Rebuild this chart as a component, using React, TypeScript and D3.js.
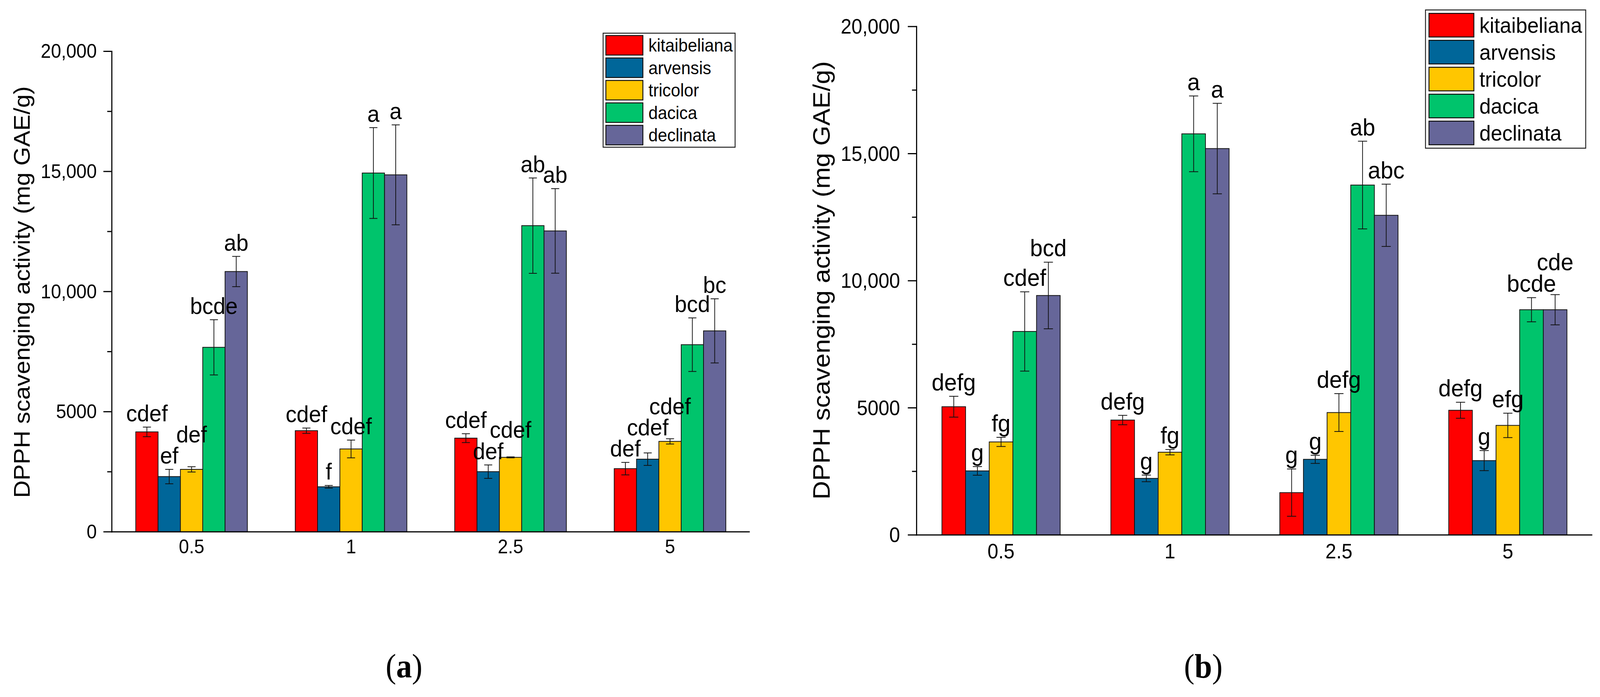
import React from "react";
import * as d3 from "d3";

// ---------- shared categories ----------
const doses = ["0.5", "1", "2.5", "5"];
const species = ["kitaibeliana", "arvensis", "tricolor", "dacica", "declinata"];
const speciesColors = ["#FF0000", "#006699", "#FFC600", "#00C46C", "#666699"];
const yTickValues = [0, 5000, 10000, 15000, 20000];
const yTickLabels = ["0", "5000", "10,000", "15,000", "20,000"];
const yMinorTicks = [2500, 7500, 12500, 17500];
const yTitle = "DPPH scavenging activity (mg GAE/g)";

// ---------- panel (a) ----------
const aKitaibeliana = [4160, 4210, 3900, 2630];
const aArvensis = [2300, 1875, 2505, 3025];
const aTricolor = [2600, 3450, 3100, 3765];
const aDacica = [7680, 14935, 12745, 7790];
const aDeclinata = [10835, 14860, 12525, 8365];

const aKitaibelianaErr = [200, 110, 185, 260];
const aArvensisErr = [300, 55, 280, 260];
const aTricolorErr = [110, 370, 20, 110];
const aDacicaErr = [1150, 1890, 1985, 1115];
const aDeclinataErr = [630, 2080, 1760, 1335];

const aKitaibelianaLbl = ["cdef", "cdef", "cdef", "def"];
const aArvensisLbl = ["ef", "f", "def", "cdef"];
const aTricolorLbl = ["def", "cdef", "cdef", "cdef"];
const aDacicaLbl = ["bcde", "a", "ab", "bcd"];
const aDeclinataLbl = ["ab", "a", "ab", "bc"];

// ---------- panel (b) ----------
const bKitaibeliana = [5045, 4520, 1665, 4905];
const bArvensis = [2520, 2225, 2975, 2925];
const bTricolor = [3660, 3255, 4815, 4310];
const bDacica = [8005, 15780, 13765, 8860];
const bDeclinata = [9420, 15200, 12575, 8860];

const bKitaibelianaErr = [410, 185, 930, 315];
const bArvensisErr = [170, 130, 160, 395];
const bTricolorErr = [180, 105, 745, 480];
const bDacicaErr = [1560, 1490, 1725, 475];
const bDeclinataErr = [1310, 1780, 1225, 595];

const bKitaibelianaLbl = ["defg", "defg", "g", "defg"];
const bArvensisLbl = ["g", "g", "g", "g"];
const bTricolorLbl = ["fg", "fg", "defg", "efg"];
const bDacicaLbl = ["cdef", "a", "ab", "bcde"];
const bDeclinataLbl = ["bcd", "a", "abc", "cde"];

const W = 4364;
const H = 1785;
const SANS = '"Liberation Sans", Arial, Helvetica, sans-serif';
const SERIF = '"Liberation Serif", "Times New Roman", serif';

let measureCtx: CanvasRenderingContext2D | null = null;
function measure(text: string, size: number): number {
  if (!measureCtx) {
    const c = document.createElement("canvas");
    measureCtx = c.getContext("2d");
  }
  if (!measureCtx) return text.length * size * 0.55;
  measureCtx.font = `${size}px ${SANS}`;
  return measureCtx.measureText(text).width;
}

type Layout = {
  x0: number;
  x1: number;
  yTop: number;
  yBottom: number;
  groupFrac: number;
  tickFont: number;
  xTickBaseline: number;
  yTickGap: number;
  majorLen: number;
  minorLen: number;
  titleFont: number;
  titleX: number;
  titleY: number;
  letterFont: number;
  capW: number;
  legX: number;
  legY: number;
  legW: number;
  legH: number;
  legPad: number;
  swW: number;
  swH: number;
  rowStep: number;
  legFont: number;
  panelLetter: string;
  panelX: number;
};

const layoutA: Layout = {
  x0: 305,
  x1: 2045,
  yTop: 131.5,
  yBottom: 1362,
  groupFrac: 0.7,
  tickFont: 50,
  xTickBaseline: 1417,
  yTickGap: 18,
  majorLen: 23,
  minorLen: 12.5,
  titleFont: 62,
  titleX: 81,
  titleY: 748,
  letterFont: 60,
  capW: 22,
  legX: 1645,
  legY: 85,
  legW: 360,
  legH: 292,
  legPad: 7.5,
  swW: 101,
  swH: 50,
  rowStep: 57.5,
  legFont: 46,
  panelLetter: "a",
  panelX: 1102,
};

const layoutB: Layout = {
  x0: 2500,
  x1: 4343,
  yTop: 68,
  yBottom: 1370,
  groupFrac: 0.7,
  tickFont: 53,
  xTickBaseline: 1430,
  yTickGap: 21,
  majorLen: 24,
  minorLen: 12.5,
  titleFont: 66,
  titleX: 2263,
  titleY: 718,
  letterFont: 62,
  capW: 25,
  legX: 3888,
  legY: 25.5,
  legW: 437,
  legH: 354,
  legPad: 9.5,
  swW: 122.5,
  swH: 60.5,
  rowStep: 69,
  legFont: 56,
  panelLetter: "b",
  panelX: 3282,
};

type PanelProps = {
  means: number[][];
  errs: number[][];
  labels: string[][];
  L: Layout;
};

function Panel({ means, errs, labels, L }: PanelProps) {
  const x = d3.scaleBand<string>().domain(doses).range([L.x0, L.x1]).paddingInner(0).paddingOuter(0);
  const step = x.step();
  const groupW = step * L.groupFrac;
  const xi = d3.scaleBand<string>().domain(species).range([-groupW / 2, groupW / 2]).padding(0);
  const bw = xi.bandwidth();
  const y = d3.scaleLinear().domain([0, 20000]).range([L.yBottom, L.yTop]);

  const bars: {
    key: string;
    x: number;
    cx: number;
    yTop: number;
    h: number;
    color: string;
    eHi: number;
    eLo: number;
  }[] = [];
  const letters: { key: string; cx: number; base: number; w: number; text: string }[] = [];
  const asc = L.letterFont * 0.72;
  const gap = 15;
  const margin = 11;

  doses.forEach((d, gi) => {
    species.forEach((s, si) => {
      const v = means[si][gi];
      const e = errs[si][gi];
      const left = (x(d) as number) + step / 2 + (xi(s) as number);
      const cx = left + bw / 2;
      bars.push({
        key: `${d}-${s}`,
        x: left,
        cx,
        yTop: y(v),
        h: y(0) - y(v),
        color: speciesColors[si],
        eHi: y(v + e),
        eLo: y(v - e),
      });
      const text = labels[si][gi];
      const w = measure(text, L.letterFont);
      let base = y(v + e) - gap;
      let moved = true;
      let guard = 0;
      while (moved && guard < 20) {
        moved = false;
        guard++;
        for (const p of letters) {
          const hOverlap = Math.abs(cx - p.cx) < (w + p.w) / 2;
          const vOverlap = base > p.base - asc && base - asc < p.base;
          // a label that would sit at or above its left neighbour is stacked on top of it;
          // one that sits clearly lower is left tucked beside it
          if (hOverlap && vOverlap && base <= p.base + 5) {
            base = p.base - asc - margin;
            moved = true;
          }
        }
      }
      letters.push({ key: `${d}-${s}-l`, cx, base, w, text });
    });
  });

  const legInnerTop = L.legY + (L.legH - (4 * L.rowStep + L.swH)) / 2;

  return (
    <g>
      {bars.map((b) => (
        <rect
          key={b.key}
          x={b.x}
          y={b.yTop}
          width={bw}
          height={b.h}
          fill={b.color}
          stroke="#111"
          strokeWidth={2}
        />
      ))}
      {bars.map((b) => (
        <g key={b.key + "-e"} stroke="#111" strokeWidth={2}>
          <line x1={b.cx} x2={b.cx} y1={b.eHi} y2={b.eLo} />
          <line x1={b.cx - L.capW / 2} x2={b.cx + L.capW / 2} y1={b.eHi} y2={b.eHi} />
          <line x1={b.cx - L.capW / 2} x2={b.cx + L.capW / 2} y1={b.eLo} y2={b.eLo} />
        </g>
      ))}
      {letters.map((l) => (
        <text
          key={l.key}
          x={l.cx}
          y={l.base}
          textAnchor="middle"
          fontFamily={SANS}
          fontSize={L.letterFont}
          fill="#000"
        >
          {l.text}
        </text>
      ))}
      <line x1={L.x0} x2={L.x0} y1={y(20000) - 1.5} y2={y(0) + 1.5} stroke="#000" strokeWidth={3} />
      <line x1={L.x0 - 1.5} x2={L.x1} y1={y(0)} y2={y(0)} stroke="#000" strokeWidth={3} />
      {yTickValues.map((t, i) => (
        <g key={"yt" + t}>
          <line x1={L.x0 - L.majorLen} x2={L.x0} y1={y(t)} y2={y(t)} stroke="#000" strokeWidth={3} />
          <text
            x={L.x0 - L.majorLen - L.yTickGap}
            y={y(t)}
            dy="0.34em"
            textAnchor="end"
            fontFamily={SANS}
            fontSize={L.tickFont}
            fill="#000"
          >
            {yTickLabels[i]}
          </text>
        </g>
      ))}
      {yMinorTicks.map((t) => (
        <line
          key={"ym" + t}
          x1={L.x0 - L.minorLen}
          x2={L.x0}
          y1={y(t)}
          y2={y(t)}
          stroke="#000"
          strokeWidth={3}
        />
      ))}
      {doses.map((d) => (
        <text
          key={"xt" + d}
          x={(x(d) as number) + step / 2}
          y={L.xTickBaseline}
          textAnchor="middle"
          fontFamily={SANS}
          fontSize={L.tickFont}
          fill="#000"
        >
          {d}
        </text>
      ))}
      <text
        transform={`translate(${L.titleX},${L.titleY}) rotate(-90)`}
        textAnchor="middle"
        fontFamily={SANS}
        fontSize={L.titleFont}
        fill="#000"
      >
        {yTitle}
      </text>
      <rect
        x={L.legX}
        y={L.legY}
        width={L.legW}
        height={L.legH}
        fill="#fff"
        stroke="#222"
        strokeWidth={2.5}
      />
      {species.map((s, i) => {
        const top = legInnerTop + i * L.rowStep;
        return (
          <g key={"lg" + s}>
            <rect
              x={L.legX + L.legPad}
              y={top}
              width={L.swW}
              height={L.swH}
              fill={speciesColors[i]}
              stroke="#111"
              strokeWidth={2.5}
            />
            <text
              x={L.legX + L.legPad + L.swW + 15}
              y={top + L.swH / 2}
              dy="0.35em"
              fontFamily={SANS}
              fontSize={L.legFont}
              fill="#000"
            >
              {s}
            </text>
          </g>
        );
      })}
      <text x={L.panelX} y={1735} textAnchor="middle" fontFamily={SERIF} fontSize={86} fill="#000">
        (<tspan fontWeight="bold">{L.panelLetter}</tspan>)
      </text>
    </g>
  );
}

export default function App() {
  const aMeans = [aKitaibeliana, aArvensis, aTricolor, aDacica, aDeclinata];
  const aErrs = [aKitaibelianaErr, aArvensisErr, aTricolorErr, aDacicaErr, aDeclinataErr];
  const aLabels = [aKitaibelianaLbl, aArvensisLbl, aTricolorLbl, aDacicaLbl, aDeclinataLbl];
  const bMeans = [bKitaibeliana, bArvensis, bTricolor, bDacica, bDeclinata];
  const bErrs = [bKitaibelianaErr, bArvensisErr, bTricolorErr, bDacicaErr, bDeclinataErr];
  const bLabels = [bKitaibelianaLbl, bArvensisLbl, bTricolorLbl, bDacicaLbl, bDeclinataLbl];
  return (
    <>
      <style>{`html,body{margin:0;padding:0;overflow:hidden;background:#fff}`}</style>
      <svg
        viewBox={`0 0 ${W} ${H}`}
        preserveAspectRatio="none"
        style={{
          position: "fixed",
          left: 0,
          top: 0,
          width: "100vw",
          height: "100vh",
          display: "block",
          background: "#fff",
        }}
      >
        <rect x={0} y={0} width={W} height={H} fill="#fff" />
        <Panel means={aMeans} errs={aErrs} labels={aLabels} L={layoutA} />
        <Panel means={bMeans} errs={bErrs} labels={bLabels} L={layoutB} />
      </svg>
    </>
  );
}
